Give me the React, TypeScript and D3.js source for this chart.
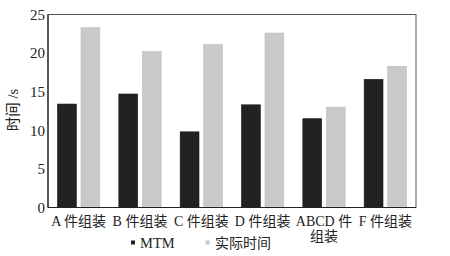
import React from "react";
import * as d3 from "d3";

const categories = ["A 件组装", "B 件组装", "C 件组装", "D 件组装", "ABCD 件\n组装", "F 件组装"];
const mtmValues = [13.4, 14.7, 9.8, 13.3, 11.5, 16.6];
const actualValues = [23.3, 20.2, 21.1, 22.6, 13.0, 18.3];
const seriesNames = ["MTM", "实际时间"];
const yTicks = [0, 5, 10, 15, 20, 25];

const W = 450;
const H = 256;
const margin = { left: 48, right: 34, top: 14.5, bottom: 48.5 };
const FONT = "'Liberation Serif', 'Noto Sans CJK SC', serif";
const colors = ["#222222", "#c9c9c9"];

export default function App() {
  const innerW = W - margin.left - margin.right;
  const innerH = H - margin.top - margin.bottom;
  const x0 = d3.scaleBand<string>().domain(categories).range([0, innerW]).paddingInner(0.31).paddingOuter(0.155);
  const x1 = d3.scaleBand<string>().domain(seriesNames).range([0, x0.bandwidth()]).paddingInner(0.2);
  const y = d3.scaleLinear().domain([0, 25]).range([innerH, 0]);
  const series = [mtmValues, actualValues];

  return (
    <svg width={W} height={H} style={{ position: "absolute", left: 0, top: 0, background: "#fff" }}>
      <g transform={`translate(${margin.left},${margin.top})`}>
        {categories.map((c, i) =>
          series.map((vals, s) => (
            <rect
              key={c + s}
              x={(x0(c) ?? 0) + (x1(seriesNames[s]) ?? 0)}
              y={y(vals[i])}
              width={x1.bandwidth()}
              height={innerH - y(vals[i])}
              fill={colors[s]}
              stroke={s === 0 ? "#111" : "#bdbdbd"}
              strokeWidth={0.6}
            />
          ))
        )}
        <rect x={0} y={0} width={innerW} height={innerH} fill="none" stroke="#555" strokeWidth={1} />
        <line x1={0} x2={0} y1={0} y2={innerH} stroke="#222" strokeWidth={1.2} />
        <line x1={0} x2={innerW} y1={innerH} y2={innerH} stroke="#222" strokeWidth={1.2} />
        {yTicks.map((t) => (
          <text key={t} x={-3} y={y(t)} dy="0.35em" textAnchor="end" fontFamily={FONT} fontSize={15} fill="#222">
            {t}
          </text>
        ))}
        {categories.map((c) => {
          const lines = c.split("\n");
          const cx = (x0(c) ?? 0) + x0.bandwidth() / 2;
          return (
            <text key={c} x={cx} y={innerH + 18} textAnchor="middle" fontFamily={FONT} fontSize={14} fill="#222">
              {lines.map((l, k) => (
                <tspan key={k} x={cx} dy={k === 0 ? 0 : 15}>
                  {l}
                </tspan>
              ))}
            </text>
          );
        })}
      </g>
      <text
        transform={`translate(18,110) rotate(-90)`}
        textAnchor="middle"
        fontFamily={FONT}
        fontSize={14.5}
        fill="#222"
      >
        时间 /s
      </text>
      <g>
        <rect x={131} y={240.5} width={4} height={4} fill={colors[0]} />
        <text x={140} y={248} fontFamily={FONT} fontSize={14.5} fill="#222">{seriesNames[0]}</text>
        <rect x={205.5} y={240.5} width={4} height={4} fill={colors[1]} />
        <text x={215} y={248} fontFamily={FONT} fontSize={14} fill="#222">{seriesNames[1]}</text>
      </g>
    </svg>
  );
}
